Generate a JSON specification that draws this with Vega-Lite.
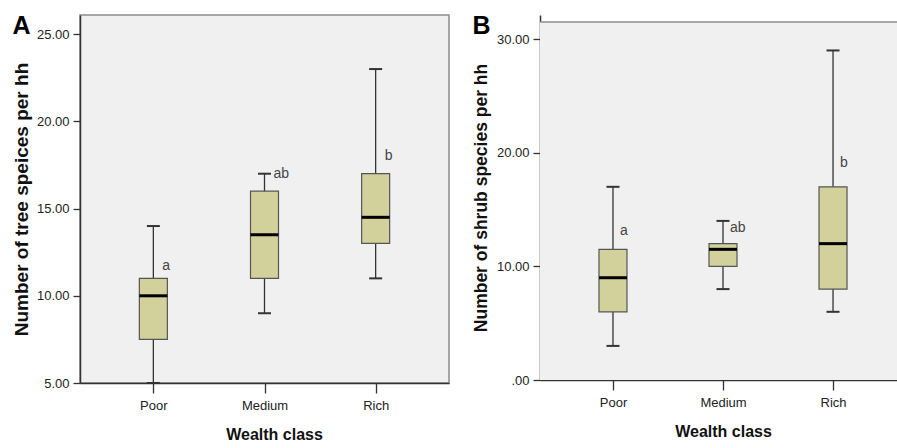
{
  "$schema": "https://vega.github.io/schema/vega-lite/v6.json",
  "background": "white",
  "padding": {"left": 11, "top": 13, "right": 0, "bottom": 0},
  "spacing": 22,
  "config": {
    "font": "Liberation Sans, sans-serif",
    "view": {"fill": "#f0f0f0", "stroke": "#8c8c8c", "strokeWidth": 1.5},
    "tick": {"opacity": 1},
    "axis": {
      "labelFont": "Liberation Sans, sans-serif",
      "labelFontSize": 13, "labelColor": "#222",
      "titleFont": "Liberation Sans, sans-serif",
      "titleFontWeight": "bold", "titleColor": "#111",
      "domainColor": "#333", "domainWidth": 1.5,
      "tickColor": "#333", "tickWidth": 1.3, "grid": false
    },
    "title": {"font": "Liberation Sans", "fontSize": 25, "fontWeight": "bold", "color": "#000", "anchor": "start", "frame": "bounds", "baseline": "top"}
  },
  "datasets": {
    "tree": [
      {"class": "Poor", "lo": 5, "q1": 7.5, "med": 10, "q3": 11, "hi": 14, "lab": "a", "laby": 11.7},
      {"class": "Medium", "lo": 9, "q1": 11, "med": 13.5, "q3": 16, "hi": 17, "lab": "ab", "laby": 17.0},
      {"class": "Rich", "lo": 11, "q1": 13, "med": 14.5, "q3": 17, "hi": 23, "lab": "b", "laby": 18.0}
    ],
    "shrub": [
      {"class": "Poor", "lo": 3, "q1": 6, "med": 9, "q3": 11.5, "hi": 17, "lab": "a", "laby": 13.1},
      {"class": "Medium", "lo": 8, "q1": 10, "med": 11.5, "q3": 12, "hi": 14, "lab": "ab", "laby": 13.4},
      {"class": "Rich", "lo": 6, "q1": 8, "med": 12, "q3": 17, "hi": 29, "lab": "b", "laby": 19.1}
    ],
    "frame": [{"bottom": 0, "top": 31.5}]
  },
  "hconcat": [
    {
      "width": 369,
      "height": 368,
      "title": {"text": "A", "offset": -24},
      "data": {"name": "tree"},
      "encoding": {
        "x": {"field": "class", "type": "nominal", "sort": ["Poor", "Medium", "Rich"],
              "scale": {"type": "point", "padding": 0.66},
              "axis": {"title": "Wealth class", "labelAngle": 0, "tickSize": 10, "labelPadding": 6, "titlePadding": 14, "titleFontSize": 16, "titleX": 194}}
      },
      "layer": [
        {"mark": {"type": "rule", "color": "#333", "strokeWidth": 1.3},
         "encoding": {
           "y": {"field": "lo", "type": "quantitative", "scale": {"domain": [5, 26.1], "nice": false, "zero": false},
                 "axis": {"title": "Number of tree speices per hh", "values": [5, 10, 15, 20, 25], "format": ".2f", "tickSize": 7, "labelPadding": 4, "titlePadding": 5, "titleFontSize": 19}},
           "y2": {"field": "hi"}}},
        {"mark": {"type": "bar", "size": 28, "fill": "#d3d19b", "stroke": "#555", "strokeWidth": 1.2},
         "encoding": {"y": {"field": "q1", "type": "quantitative"}, "y2": {"field": "q3"}}},
        {"mark": {"type": "tick", "color": "#000", "size": 28, "thickness": 3, "opacity": 1},
         "encoding": {"y": {"field": "med", "type": "quantitative"}}},
        {"mark": {"type": "tick", "color": "#333", "size": 13, "thickness": 2, "opacity": 1},
         "encoding": {"y": {"field": "hi", "type": "quantitative"}}},
        {"mark": {"type": "tick", "color": "#333", "size": 13, "thickness": 2, "opacity": 1},
         "encoding": {"y": {"field": "lo", "type": "quantitative"}}},
        {"mark": {"type": "text", "align": "left", "baseline": "middle", "dx": 9, "fontSize": 14, "color": "#444"},
         "encoding": {"y": {"field": "laby", "type": "quantitative"}, "text": {"field": "lab"}}}
      ]
    },
    {
      "width": 358,
      "height": 365,
      "title": {"text": "B", "offset": -24},
      "view": {"stroke": null, "fill": null},
      "layer": [
        {"data": {"name": "frame"},
         "mark": {"type": "rect", "color": "#f0f0f0"},
         "encoding": {
           "y": {"field": "bottom", "type": "quantitative", "scale": {"domain": [0, 32.12], "nice": false, "zero": false},
                 "axis": {"title": "Number of shrub species per hh", "values": [0, 10, 20, 30], "labelExpr": "datum.value == 0 ? '.00' : format(datum.value, '.2f')", "tickSize": 7, "labelPadding": 4, "titlePadding": 6, "titleFontSize": 17.5}},
           "y2": {"field": "top"}}},
        {"data": {"name": "frame"},
         "mark": {"type": "rule", "color": "#8c8c8c", "strokeWidth": 1.5},
         "encoding": {"y": {"field": "top", "type": "quantitative"}}},
        {"data": {"name": "shrub"},
         "mark": {"type": "rule", "color": "#333", "strokeWidth": 1.3},
         "encoding": {
           "x": {"field": "class", "type": "nominal", "sort": ["Poor", "Medium", "Rich"],
                 "scale": {"type": "point", "padding": 0.627, "align": 0.529},
                 "axis": {"title": "Wealth class", "labelAngle": 0, "tickSize": 10, "labelPadding": 6, "titlePadding": 14, "titleFontSize": 16, "titleX": 183}},
           "y": {"field": "lo", "type": "quantitative"},
           "y2": {"field": "hi"}}},
        {"data": {"name": "shrub"},
         "mark": {"type": "bar", "size": 28, "fill": "#d3d19b", "stroke": "#555", "strokeWidth": 1.2},
         "encoding": {"x": {"field": "class", "type": "nominal", "sort": ["Poor", "Medium", "Rich"]},
                      "y": {"field": "q1", "type": "quantitative"}, "y2": {"field": "q3"}}},
        {"data": {"name": "shrub"},
         "mark": {"type": "tick", "color": "#000", "size": 28, "thickness": 3, "opacity": 1},
         "encoding": {"x": {"field": "class", "type": "nominal", "sort": ["Poor", "Medium", "Rich"]},
                      "y": {"field": "med", "type": "quantitative"}}},
        {"data": {"name": "shrub"},
         "mark": {"type": "tick", "color": "#333", "size": 13, "thickness": 2, "opacity": 1},
         "encoding": {"x": {"field": "class", "type": "nominal", "sort": ["Poor", "Medium", "Rich"]},
                      "y": {"field": "hi", "type": "quantitative"}}},
        {"data": {"name": "shrub"},
         "mark": {"type": "tick", "color": "#333", "size": 13, "thickness": 2, "opacity": 1},
         "encoding": {"x": {"field": "class", "type": "nominal", "sort": ["Poor", "Medium", "Rich"]},
                      "y": {"field": "lo", "type": "quantitative"}}},
        {"data": {"name": "shrub"},
         "mark": {"type": "text", "align": "left", "baseline": "middle", "dx": 7, "fontSize": 14, "color": "#444"},
         "encoding": {"x": {"field": "class", "type": "nominal", "sort": ["Poor", "Medium", "Rich"]},
                      "y": {"field": "laby", "type": "quantitative"}, "text": {"field": "lab"}}}
      ]
    }
  ]
}
